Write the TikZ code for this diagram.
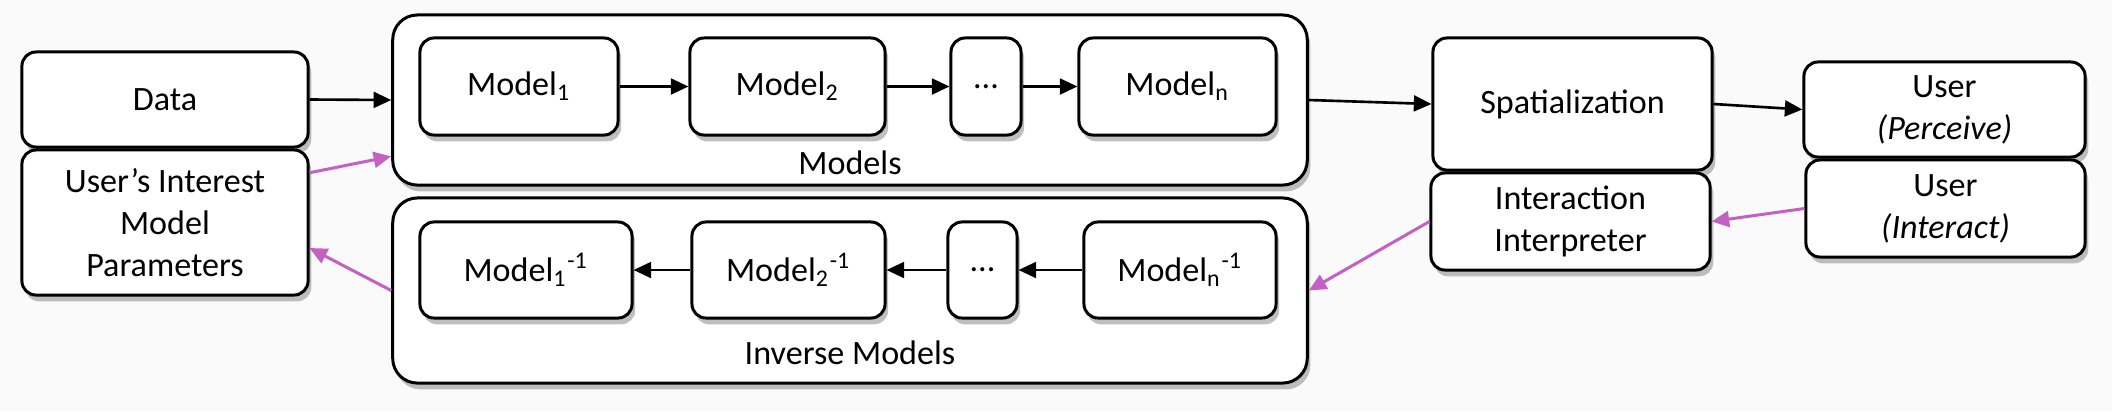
\documentclass[tikz,border=0pt]{standalone}
\usepackage{fontspec}
\setmainfont{Carlito}
\usepackage{tikz}
\usepackage{xcolor}
\usetikzlibrary{arrows.meta,shadows}
\definecolor{pinkarrow}{RGB}{196,96,196}
\definecolor{bgpaper}{RGB}{250,250,250}

\begin{document}
\begin{tikzpicture}[x=0.01cm,y=-0.01cm,
  font=\fontsize{9.7}{12}\selectfont,
  box/.style={draw=black, line width=0.85pt, fill=white, rounded corners=4pt, align=center, inner sep=0pt, drop shadow={shadow xshift=0.9pt, shadow yshift=-1.8pt, opacity=0.5}},
  outerbox/.style={box, rounded corners=7pt},
  flow/.style={black, line width=0.75pt, -{Triangle[length=5pt,width=4.5pt]}},
  back/.style={pinkarrow, line width=0.85pt, -{Triangle[length=5pt,width=4.5pt]}}]
\useasboundingbox[fill=bgpaper] (0,0) rectangle (2112,411);
\node[box, minimum width=2.86cm, minimum height=0.95cm] (data) at (165,99.5) {Data};
\node[box, minimum width=2.86cm, minimum height=1.45cm] (interest) at (165,222.5) {User’s Interest\\Model\\Parameters};
\node[outerbox, minimum width=9.14cm, minimum height=1.70cm] (models) at (850,100) {};
\node (modelslabel) at (850,163) {Models};
\node[box, minimum width=1.98cm, minimum height=0.97cm] (m1) at (519,86.5) {Model\textsubscript{1}};
\node[box, minimum width=1.95cm, minimum height=0.97cm] (m2) at (787.5,86.5) {Model\textsubscript{2}};
\node[box, minimum width=0.70cm, minimum height=0.97cm] (mdots) at (986,86.5) {...};
\node[box, minimum width=1.97cm, minimum height=0.97cm] (mn) at (1177.5,86.5) {Model\textsubscript{n}};
\node[outerbox, minimum width=9.14cm, minimum height=1.85cm] (inv) at (850,290.5) {};
\node (invlabel) at (850,353) {Inverse Models};
\node[box, minimum width=2.12cm, minimum height=0.96cm] (i1) at (526,270) {Model\textsubscript{1}\textsuperscript{-1}};
\node[box, minimum width=1.93cm, minimum height=0.96cm] (i2) at (788.5,270) {Model\textsubscript{2}\textsuperscript{-1}};
\node[box, minimum width=0.69cm, minimum height=0.96cm] (idots) at (982.5,270) {...};
\node[box, minimum width=1.92cm, minimum height=0.96cm] (in) at (1180,270) {Model\textsubscript{n}\textsuperscript{-1}};
\node[box, minimum width=2.79cm, minimum height=1.32cm] (spat) at (1572.5,104) {Spatialization};
\node[box, minimum width=2.79cm, minimum height=0.97cm] (interp) at (1570.5,221.5) {Interaction\\Interpreter};
\node[box, minimum width=2.81cm, minimum height=0.95cm] (perceive) at (1944.5,109.5) {User\\\textit{(Perceive)}};
\node[box, minimum width=2.79cm, minimum height=0.97cm] (interact) at (1945.5,208.5) {User\\\textit{(Interact)}};
\draw[flow] (data.east) -- (models.west);
\draw[flow] (m1.east) -- (m2.west);
\draw[flow] (m2.east) -- (mdots.west);
\draw[flow] (mdots.east) -- (mn.west);
\draw[flow] (models.east) -- (spat.west);
\draw[flow] (spat.east) -- (perceive.west);
\draw[flow] (in.west) -- (idots.east);
\draw[flow] (idots.west) -- (i2.east);
\draw[flow] (i2.west) -- (i1.east);
\draw[back] (interest.19) -- (models.-173);
\draw[back] (inv.west) -- (interest.-10);
\draw[back] (interact.west) -- (interp.east);
\draw[back] (interp.west) -- (inv.east);
\end{tikzpicture}
\end{document}
